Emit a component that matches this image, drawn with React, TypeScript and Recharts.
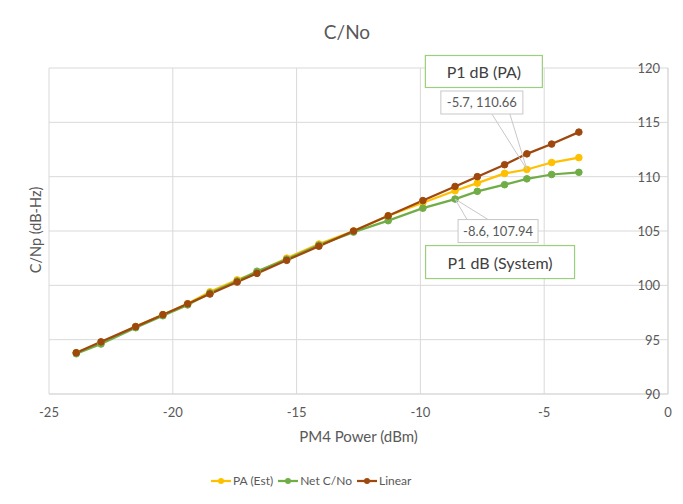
import {
  LineChart,
  Line,
  XAxis,
  YAxis,
  CartesianGrid,
  ReferenceDot,
} from "recharts";

const FONT = "Lato, 'Liberation Sans', sans-serif";
const GRID = "#d9d9d9";
const TEXT = "#595959";

// PM4 drive level (dBm) and the three C/No curves (dB-Hz)
const POWER_DBM = [
  -23.9, -22.9, -21.5, -20.4, -19.4, -18.5, -17.4, -16.6, -15.4, -14.1, -12.7,
  -11.3, -9.9, -8.6, -7.7, -6.6, -5.7, -4.7, -3.6,
];
const PA_EST = [
  93.8, 94.7, 96.2, 97.3, 98.3, 99.4, 100.5, 101.2, 102.5, 103.8, 105.0, 106.4,
  107.6, 108.7, 109.4, 110.3, 110.66, 111.3, 111.75,
];
const NET_CNO = [
  93.7, 94.6, 96.1, 97.2, 98.2, 99.3, 100.4, 101.3, 102.4, 103.7, 104.9, 105.95,
  107.1, 107.94, 108.65, 109.26, 109.8, 110.2, 110.4,
];
const LINEAR = [
  93.8, 94.8, 96.2, 97.3, 98.3, 99.2, 100.3, 101.1, 102.3, 103.6, 105.0, 106.4,
  107.8, 109.1, 110.0, 111.1, 112.1, 113.0, 114.1,
];

const X_TICKS = [-25, -20, -15, -10, -5, 0];
const Y_TICKS = [90, 95, 100, 105, 110, 115, 120];

// compression points (index into the arrays above)
const P1_PA_IDX = 16;
const P1_SYS_IDX = 13;

const SERIES = [
  { key: "pa", label: "PA (Est)", color: "#FFC000" },
  { key: "net", label: "Net C/No", color: "#70AD47" },
  { key: "linear", label: "Linear", color: "#9E480E" },
];

const rows = POWER_DBM.map((x, i) => ({
  x,
  pa: PA_EST[i],
  net: NET_CNO[i],
  linear: LINEAR[i],
}));

type CalloutSpec = {
  text: string;
  dx: number;
  dy: number;
  w: number;
  h: number;
  tipA: number;
  tipB: number;
  edge: "top" | "bottom";
  title: string;
  tdx: number;
  tdy: number;
  tw: number;
  th: number;
};

function Callout({ cx, cy, s }: { cx: number; cy: number; s: CalloutSpec }) {
  if (cx == null || cy == null) return null;
  const bx = cx + s.dx - s.w / 2;
  const by = cy + s.dy - s.h / 2;
  const ey = s.edge === "bottom" ? by + s.h : by;
  return (
    <g>
      <path
        d={`M${cx + s.dx + s.tipA},${ey} L${cx},${cy} L${cx + s.dx + s.tipB},${ey}`}
        fill="none"
        stroke="#c8c8c8"
        strokeWidth={1}
      />
      <rect x={bx} y={by} width={s.w} height={s.h} fill="#fff" stroke="#c8c8c8" />
      <text
        x={cx + s.dx}
        y={cy + s.dy}
        textAnchor="middle"
        dominantBaseline="central"
        fontFamily={FONT}
        fontSize={13}
        fill={TEXT}
      >
        {s.text}
      </text>
      <rect
        x={cx + s.tdx - s.tw / 2}
        y={cy + s.tdy - s.th / 2}
        width={s.tw}
        height={s.th}
        fill="#fff"
        stroke="#9bcf7d"
        strokeWidth={1.2}
      />
      <text
        x={cx + s.tdx}
        y={cy + s.tdy}
        textAnchor="middle"
        dominantBaseline="central"
        fontFamily={FONT}
        fontSize={16}
        fill="#404040"
      >
        {s.title}
      </text>
    </g>
  );
}

const PA_CALLOUT: CalloutSpec = {
  text: `${POWER_DBM[P1_PA_IDX]}, ${PA_EST[P1_PA_IDX]}`,
  dx: -45,
  dy: -67,
  w: 82,
  h: 23,
  tipA: 10,
  tipB: 28,
  edge: "bottom",
  title: "P1 dB (PA)",
  tdx: -43,
  tdy: -98,
  tw: 117,
  th: 32,
};

const SYS_CALLOUT: CalloutSpec = {
  text: `${POWER_DBM[P1_SYS_IDX]}, ${NET_CNO[P1_SYS_IDX]}`,
  dx: 43,
  dy: 32,
  w: 80,
  h: 23,
  tipA: -31,
  tipB: -10,
  edge: "top",
  title: "P1 dB (System)",
  tdx: 45,
  tdy: 63,
  tw: 149,
  th: 33,
};

// y labels sit just inside the axis drawn at x = 0
function YTick(props: any) {
  const { x, y, payload } = props;
  return (
    <text
      x={x - 14}
      y={y}
      textAnchor="end"
      dominantBaseline="central"
      fontFamily={FONT}
      fontSize={13}
      fill={TEXT}
    >
      {payload.value}
    </text>
  );
}

function LegendRow() {
  return (
    <div
      style={{
        position: "absolute",
        left: 211,
        top: 473,
        display: "flex",
        gap: 5,
        fontFamily: FONT,
        fontSize: 12,
        color: TEXT,
      }}
    >
      {SERIES.map((s) => (
        <span key={s.key} style={{ display: "inline-flex", alignItems: "center", gap: 2 }}>
          <svg width={20} height={10}>
            <line x1={0} y1={5} x2={20} y2={5} stroke={s.color} strokeWidth={2.25} />
            <circle cx={10} cy={5} r={3} fill={s.color} />
          </svg>
          {s.label}
        </span>
      ))}
    </div>
  );
}

export default function App() {
  return (
    <div
      style={{
        position: "relative",
        margin: -8,
        width: 683,
        height: 504,
        overflow: "hidden",
        background: "#fff",
      }}
    >
      <div
        style={{
          position: "absolute",
          left: 7,
          top: 7,
          width: 720,
          height: 540,
          border: `1px solid ${GRID}`,
        }}
      />
      <div
        style={{
          position: "absolute",
          left: 0,
          width: 694,
          top: 20,
          textAlign: "center",
          fontFamily: FONT,
          fontSize: 19,
          color: TEXT,
        }}
      >
        C/No
      </div>
      <div
        style={{
          position: "absolute",
          left: 35,
          top: 230,
          transform: "translate(-50%, -50%) rotate(-90deg)",
          whiteSpace: "nowrap",
          fontFamily: FONT,
          fontSize: 14.5,
          color: TEXT,
        }}
      >
        C/Np (dB-Hz)
      </div>
      <div
        style={{
          position: "absolute",
          left: 49,
          width: 619,
          top: 427,
          textAlign: "center",
          fontFamily: FONT,
          fontSize: 15,
          color: TEXT,
        }}
      >
        PM4 Power (dBm)
      </div>

      <div style={{ position: "absolute", left: 0, top: 0 }}>
        <LineChart
          width={683}
          height={504}
          data={rows}
          margin={{ top: 68, right: 14, bottom: 80, left: 49 }}
        >
          <CartesianGrid stroke={GRID} />
          <XAxis
            type="number"
            dataKey="x"
            domain={[-25, 0]}
            ticks={X_TICKS}
            height={30}
            tickLine={false}
            tickMargin={8}
            axisLine={{ stroke: GRID }}
            tick={{ fill: TEXT, fontSize: 13, fontFamily: FONT }}
          />
          <YAxis
            orientation="right"
            width={1}
            domain={[90, 120]}
            ticks={Y_TICKS}
            tickLine={false}
            tickMargin={0}
            axisLine={{ stroke: GRID }}
            tick={<YTick />}
          />
          {SERIES.map((s) => (
            <Line
              key={s.key}
              type="linear"
              dataKey={s.key}
              stroke={s.color}
              strokeWidth={2.25}
              dot={{ r: 3.3, fill: s.color, stroke: s.color, strokeWidth: 1 }}
              activeDot={false}
              isAnimationActive={false}
            />
          ))}
          <ReferenceDot
            x={POWER_DBM[P1_PA_IDX]}
            y={PA_EST[P1_PA_IDX]}
            shape={(p: any) => <Callout cx={p.cx} cy={p.cy} s={PA_CALLOUT} />}
          />
          <ReferenceDot
            x={POWER_DBM[P1_SYS_IDX]}
            y={NET_CNO[P1_SYS_IDX]}
            shape={(p: any) => <Callout cx={p.cx} cy={p.cy} s={SYS_CALLOUT} />}
          />
        </LineChart>
      </div>
      <LegendRow />
    </div>
  );
}
